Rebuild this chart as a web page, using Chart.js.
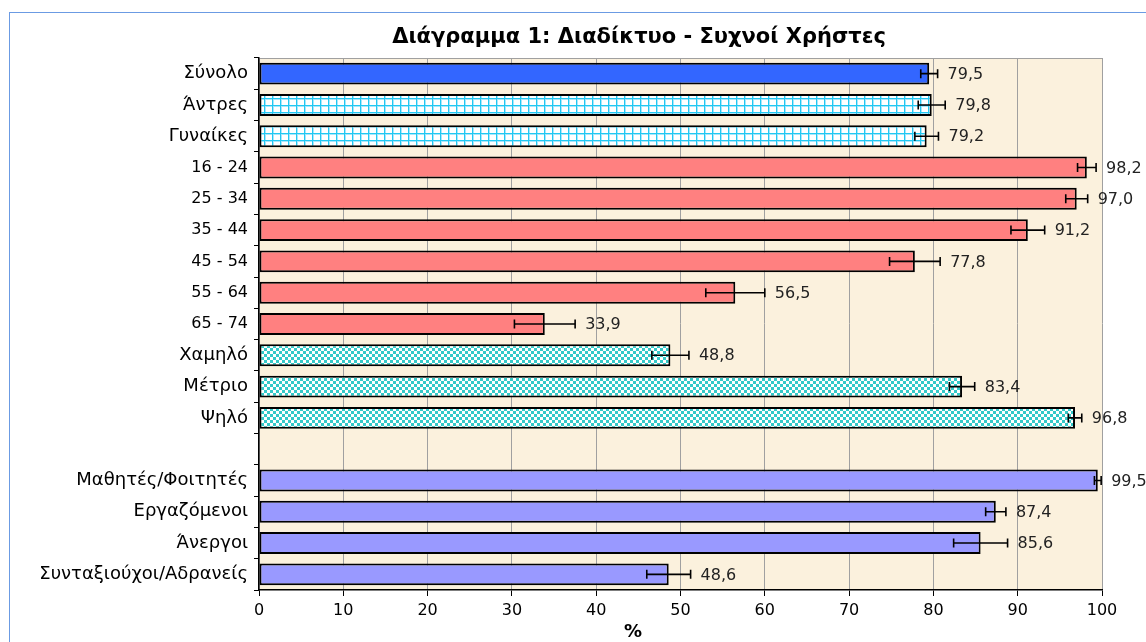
<!DOCTYPE html>
<html>
<head>
<meta charset="utf-8">
<script src="https://cdn.jsdelivr.net/npm/chart.js@4.4.0/dist/chart.umd.min.js"></script>
<style>
html, body { margin: 0; padding: 0; background: #fff; overflow: hidden; }
#frame { position: absolute; left: 9px; top: 12px; width: 1200px; height: 700px;
  border-left: 1px solid #6b9be3; border-top: 1px solid #6b9be3; }
#wrap { position: absolute; left: 0; top: 0; width: 1146px; height: 642px; }
</style>
</head>
<body>
<div id="frame"></div>
<div id="wrap"><canvas id="chart"></canvas></div>
<script>
// data
const categories = ["Σύνολο", "Άντρες", "Γυναίκες", "16 - 24", "25 - 34", "35 - 44", "45 - 54",
  "55 - 64", "65 - 74", "Χαμηλό", "Μέτριο", "Ψηλό", "", "Μαθητές/Φοιτητές", "Εργαζόμενοι",
  "Άνεργοι", "Συνταξιούχοι/Αδρανείς"]
const values = [79.5, 79.8, 79.2, 98.2, 97.0, 91.2, 77.8, 56.5, 33.9, 48.8, 83.4, 96.8, null,
  99.5, 87.4, 85.6, 48.6]
const errors = [1.0, 1.6, 1.4, 1.1, 1.3, 2.0, 3.0, 3.5, 3.6, 2.2, 1.5, 0.8, null,
  0.4, 1.2, 3.2, 2.6]
const groups = ["total", "sex", "sex", "age", "age", "age", "age", "age", "age",
  "edu", "edu", "edu", "none", "job", "job", "job", "job"]

const titleText = "Διάγραμμα 1: Διαδίκτυο - Συχνοί Χρήστες"
const axisTitle = "%"
const font = "DejaVu Sans"

function gridPattern() {
  const c = document.createElement("canvas")
  c.width = 8; c.height = 7
  const g = c.getContext("2d")
  g.fillStyle = "#fff"; g.fillRect(0, 0, 8, 7)
  g.fillStyle = "#a8e6fb"; g.fillRect(0, 0, 8, 2); g.fillRect(0, 0, 2, 7)
  g.fillStyle = "#22c8f2"; g.fillRect(0, 0, 8, 1); g.fillRect(0, 0, 1, 7)
  return g.createPattern(c, "repeat")
}

function checkPattern() {
  const c = document.createElement("canvas")
  c.width = 6; c.height = 6
  const g = c.getContext("2d")
  g.fillStyle = "#fff"; g.fillRect(0, 0, 6, 6)
  g.fillStyle = "#33c9c9"; g.fillRect(0, 0, 3, 3); g.fillRect(3, 3, 3, 3)
  return g.createPattern(c, "repeat")
}

const groupFill = {
  total: "#3366ff",
  sex: gridPattern(),
  age: "#ff8080",
  edu: checkPattern(),
  job: "#9999ff",
  none: "rgba(0,0,0,0)"
}

// parchment plot background + top border
const paper = {
  id: "paper",
  beforeDraw(chart) {
    const a = chart.chartArea, c = chart.ctx
    c.save()
    c.fillStyle = "#fbf1dd"
    c.fillRect(a.left, a.top, a.right - a.left, a.bottom - a.top)
    c.strokeStyle = "#a0a0a0"
    c.lineWidth = 1
    c.beginPath()
    c.moveTo(a.left, a.top + 0.5)
    c.lineTo(a.right, a.top + 0.5)
    c.stroke()
    c.restore()
  }
}

// error bars and value labels
const errorBars = {
  id: "errorBars",
  afterDatasetsDraw(chart) {
    const c = chart.ctx, x = chart.scales.x
    const meta = chart.getDatasetMeta(0)
    c.save()
    c.strokeStyle = "#000"
    c.lineWidth = 1.6
    c.fillStyle = "#222"
    c.font = "16px '" + font + "'"
    c.textBaseline = "middle"
    c.textAlign = "left"
    values.forEach(function(v, i) {
      if (v === null) return
      const y = meta.data[i].y
      const lo = x.getPixelForValue(v - errors[i])
      const hi = x.getPixelForValue(v + errors[i])
      c.beginPath()
      c.moveTo(lo, y); c.lineTo(hi, y)
      c.moveTo(lo, y - 4.5); c.lineTo(lo, y + 4.5)
      c.moveTo(hi, y - 4.5); c.lineTo(hi, y + 4.5)
      c.stroke()
      c.fillText(v.toFixed(1).replace(".", ","), hi + 10, y + 1)
    })
    c.restore()
  }
}

// title and axis title, centred on the whole chart frame like the original
const texts = {
  id: "texts",
  afterDraw(chart) {
    const c = chart.ctx
    c.save()
    c.fillStyle = "#000"
    c.textAlign = "center"
    c.textBaseline = "middle"
    c.font = "bold 21px '" + font + "'"
    c.fillText(titleText, 639, 38)
    c.font = "bold 18px '" + font + "'"
    c.fillText(axisTitle, 633, 632)
    c.restore()
  }
}

let chart = new Chart(document.getElementById("chart").getContext("2d"), {
  type: "bar",
  data: {
    labels: categories,
    datasets: [{
      data: values,
      backgroundColor: groups.map(g => groupFill[g]),
      borderColor: "#000",
      borderWidth: 2,
      borderSkipped: false,
      barPercentage: 0.7,
      categoryPercentage: 1
    }]
  },
  options: {
    indexAxis: "y",
    responsive: true,
    maintainAspectRatio: false,
    animation: false,
    layout: { padding: { top: 58, right: 44, bottom: 0, left: 0 } },
    plugins: { legend: { display: false }, tooltip: { enabled: false } },
    scales: {
      x: {
        min: 0, max: 100,
        ticks: { stepSize: 10, color: "#000", font: { family: font, size: 16 }, padding: 5 },
        grid: { color: "#a0a0a0", tickColor: "#000", tickLength: 6, lineWidth: 1 },
        border: { color: "#000", width: 1.5 },
        afterFit(s) { s.height = 52 }
      },
      y: {
        ticks: {
          color: "#000", padding: 6, autoSkip: false,
          font: ctx => ({ family: font, size: groups[ctx.index] === "age" ? 16 : 18 })
        },
        grid: { offset: true, drawOnChartArea: false, color: "#000", tickLength: 5 },
        border: { color: "#000", width: 1.5 },
        afterFit(s) { s.width = 259 }
      }
    }
  },
  plugins: [paper, errorBars, texts]
})
</script>
</body>
</html>
